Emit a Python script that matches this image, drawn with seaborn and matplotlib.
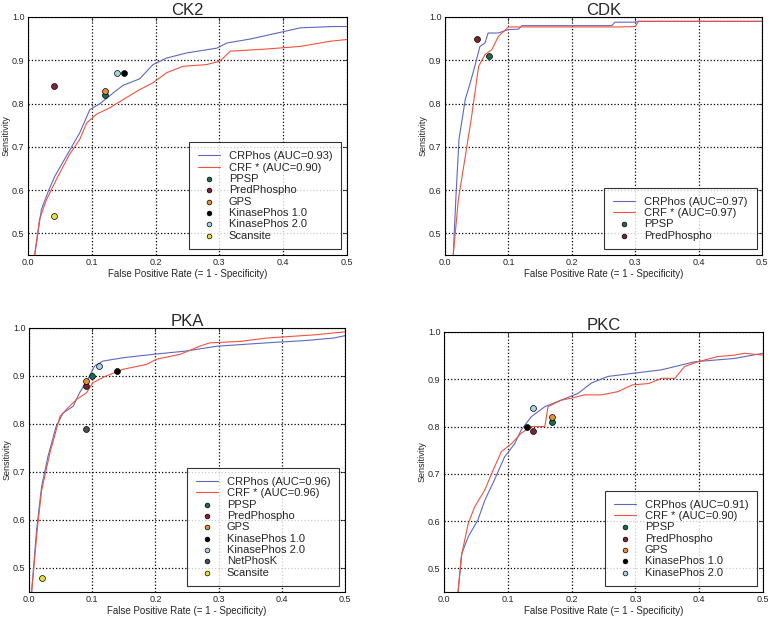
import matplotlib
matplotlib.use("Agg")
import matplotlib.pyplot as plt
import seaborn as sns

sns.set_style("white")
plt.rcParams['font.family'] = ['Liberation Sans', 'DejaVu Sans']

# ROC curves (fpr, sensitivity)
ck2_crphos_x = [0.0105, 0.021, 0.031, 0.042, 0.060, 0.081, 0.097, 0.113, 0.134, 0.149, 0.175, 0.196, 0.217, 0.249, 0.296, 0.312, 0.348, 0.40, 0.427, 0.479, 0.5]
ck2_crphos_y = [0.45, 0.555, 0.594, 0.632, 0.678, 0.732, 0.786, 0.80, 0.825, 0.842, 0.857, 0.89, 0.905, 0.917, 0.928, 0.94, 0.949, 0.966, 0.975, 0.978, 0.978]
ck2_crf_x = [0.0105, 0.018, 0.029, 0.047, 0.065, 0.081, 0.092, 0.107, 0.128, 0.149, 0.175, 0.196, 0.217, 0.243, 0.28, 0.301, 0.317, 0.374, 0.427, 0.474, 0.5]
ck2_crf_y = [0.45, 0.532, 0.578, 0.632, 0.682, 0.717, 0.755, 0.775, 0.79, 0.809, 0.832, 0.848, 0.871, 0.886, 0.89, 0.898, 0.921, 0.926, 0.932, 0.944, 0.948]

cdk_crphos_x = [0.013, 0.017, 0.022, 0.032, 0.039, 0.047, 0.055, 0.063, 0.068, 0.084, 0.1, 0.116, 0.121, 0.263, 0.268, 0.3, 0.305, 0.5]
cdk_crphos_y = [0.45, 0.578, 0.717, 0.81, 0.844, 0.886, 0.932, 0.94, 0.963, 0.963, 0.971, 0.972, 0.98, 0.98, 0.988, 0.988, 0.99, 0.99]
cdk_crf_x = [0.013, 0.021, 0.032, 0.042, 0.053, 0.063, 0.074, 0.084, 0.1, 0.274, 0.3, 0.305, 0.5]
cdk_crf_y = [0.45, 0.578, 0.678, 0.771, 0.886, 0.913, 0.925, 0.955, 0.977, 0.977, 0.978, 0.99, 0.99]

pka_crphos_x = [0.004, 0.012, 0.02, 0.03, 0.043, 0.054, 0.07, 0.08, 0.093, 0.104, 0.117, 0.149, 0.196, 0.249, 0.297, 0.376, 0.439, 0.482, 0.5]
pka_crphos_y = [0.447, 0.579, 0.67, 0.732, 0.795, 0.823, 0.837, 0.865, 0.893, 0.921, 0.931, 0.938, 0.945, 0.952, 0.962, 0.969, 0.974, 0.979, 0.984]
pka_crf_x = [0.004, 0.013, 0.02, 0.033, 0.049, 0.059, 0.075, 0.091, 0.101, 0.122, 0.149, 0.186, 0.202, 0.239, 0.27, 0.286, 0.334, 0.376, 0.455, 0.5]
pka_crf_y = [0.447, 0.579, 0.662, 0.739, 0.816, 0.83, 0.851, 0.865, 0.886, 0.9, 0.914, 0.924, 0.935, 0.945, 0.962, 0.969, 0.972, 0.979, 0.986, 0.992]

pkc_crphos_x = [0.022, 0.028, 0.038, 0.053, 0.064, 0.079, 0.095, 0.111, 0.121, 0.137, 0.158, 0.184, 0.21, 0.231, 0.257, 0.299, 0.341, 0.393, 0.455, 0.5]
pkc_crphos_y = [0.45, 0.532, 0.567, 0.602, 0.644, 0.687, 0.736, 0.764, 0.793, 0.821, 0.842, 0.856, 0.87, 0.892, 0.906, 0.913, 0.92, 0.937, 0.944, 0.955]
pkc_crf_x = [0.022, 0.027, 0.038, 0.048, 0.064, 0.077, 0.09, 0.106, 0.121, 0.137, 0.158, 0.163, 0.184, 0.2, 0.22, 0.247, 0.273, 0.295, 0.321, 0.341, 0.362, 0.377, 0.398, 0.429, 0.455, 0.471, 0.5]
pkc_crf_y = [0.45, 0.525, 0.595, 0.63, 0.666, 0.708, 0.747, 0.764, 0.786, 0.8, 0.8, 0.842, 0.856, 0.86, 0.867, 0.867, 0.874, 0.888, 0.891, 0.902, 0.902, 0.927, 0.937, 0.948, 0.951, 0.955, 0.951]

# other predictors (single operating points)
ck2_tools = ["PPSP", "PredPhospho", "GPS", "KinasePhos 1.0", "KinasePhos 2.0", "Scansite"]
ck2_fpr = [0.12, 0.04, 0.12, 0.15, 0.14, 0.04]
ck2_sens = [0.82, 0.84, 0.83, 0.87, 0.87, 0.54]

cdk_tools = ["PPSP", "PredPhospho"]
cdk_fpr = [0.07, 0.05]
cdk_sens = [0.91, 0.95]

pka_tools = ["PPSP", "PredPhospho", "GPS", "KinasePhos 1.0", "KinasePhos 2.0", "NetPhosK", "Scansite"]
pka_fpr = [0.10, 0.09, 0.09, 0.14, 0.11, 0.09, 0.02]
pka_sens = [0.90, 0.88, 0.89, 0.91, 0.92, 0.79, 0.48]

pkc_tools = ["PPSP", "PredPhospho", "GPS", "KinasePhos 1.0", "KinasePhos 2.0"]
pkc_fpr = [0.17, 0.14, 0.17, 0.13, 0.14]
pkc_sens = [0.81, 0.79, 0.82, 0.80, 0.84]

auc_crphos = {"CK2": 0.93, "CDK": 0.97, "PKA": 0.96, "PKC": 0.91}
auc_crf = {"CK2": 0.90, "CDK": 0.97, "PKA": 0.96, "PKC": 0.90}

tool_colors = {
    "PPSP": "#1d6a4c",
    "PredPhospho": "#7a2630",
    "GPS": "#e8902e",
    "KinasePhos 1.0": "#000000",
    "KinasePhos 2.0": "#a6d2e2",
    "NetPhosK": "#505050",
    "Scansite": "#e6e23c",
}
blue = "#5c68c4"
red = "#f2523e"

panels = [
    ("CK2", [0.0363, 0.5874, 0.4137, 0.3851], ck2_crphos_x, ck2_crphos_y, ck2_crf_x, ck2_crf_y, ck2_tools, ck2_fpr, ck2_sens),
    ("CDK", [0.5772, 0.5874, 0.4112, 0.3851], cdk_crphos_x, cdk_crphos_y, cdk_crf_x, cdk_crf_y, cdk_tools, cdk_fpr, cdk_sens),
    ("PKA", [0.0376, 0.0421, 0.4099, 0.4272], pka_crphos_x, pka_crphos_y, pka_crf_x, pka_crf_y, pka_tools, pka_fpr, pka_sens),
    ("PKC", [0.5759, 0.0421, 0.4137, 0.4207], pkc_crphos_x, pkc_crphos_y, pkc_crf_x, pkc_crf_y, pkc_tools, pkc_fpr, pkc_sens),
]

fig = plt.figure(figsize=(7.71, 6.18), dpi=100)

for name, pos, bx, by, rx, ry, tools, fpr, sens in panels:
    ax = fig.add_axes(pos)
    sns.lineplot(x=bx, y=by, ax=ax, color=blue, lw=0.8, sort=False, estimator=None,
                 label=f"CRPhos (AUC={auc_crphos[name]:.2f})")
    sns.lineplot(x=rx, y=ry, ax=ax, color=red, lw=0.8, sort=False, estimator=None,
                 label=f"CRF * (AUC={auc_crf[name]:.2f})")
    for t, fx, sy in zip(tools, fpr, sens):
        sns.scatterplot(x=[fx], y=[sy], ax=ax, color=tool_colors[t], s=18,
                        edgecolor="black", linewidth=0.5, label=t, zorder=5)

    ax.set_xlim(0, 0.5)
    ax.set_ylim(0.45, 1.0)
    ax.set_xticks([0.0, 0.1, 0.2, 0.3, 0.4, 0.5])
    ax.set_yticks([0.5, 0.6, 0.7, 0.8, 0.9, 1.0])
    ax.grid(True, color="black", linestyle=":", linewidth=0.9)
    ax.tick_params(direction="in", top=True, right=True, labelsize=6.5, length=3, width=0.6, pad=2.5)
    for sp in ax.spines.values():
        sp.set_color("black")
        sp.set_linewidth(0.8)
    ax.set_title(name, fontsize=12, pad=1.5)
    ax.set_xlabel("False Positive Rate (= 1 - Specificity)", fontsize=7, labelpad=1)
    ax.set_ylabel("Sensitivity", fontsize=6.5, labelpad=1)
    leg = ax.legend(loc="lower right", fontsize=8, frameon=True, fancybox=False,
                    labelspacing=0.12, handlelength=2.0, borderpad=0.8, markerscale=0.8)
    leg.get_frame().set_edgecolor("black")
    leg.get_frame().set_linewidth(0.8)

fig.savefig("out.png", dpi=100)
